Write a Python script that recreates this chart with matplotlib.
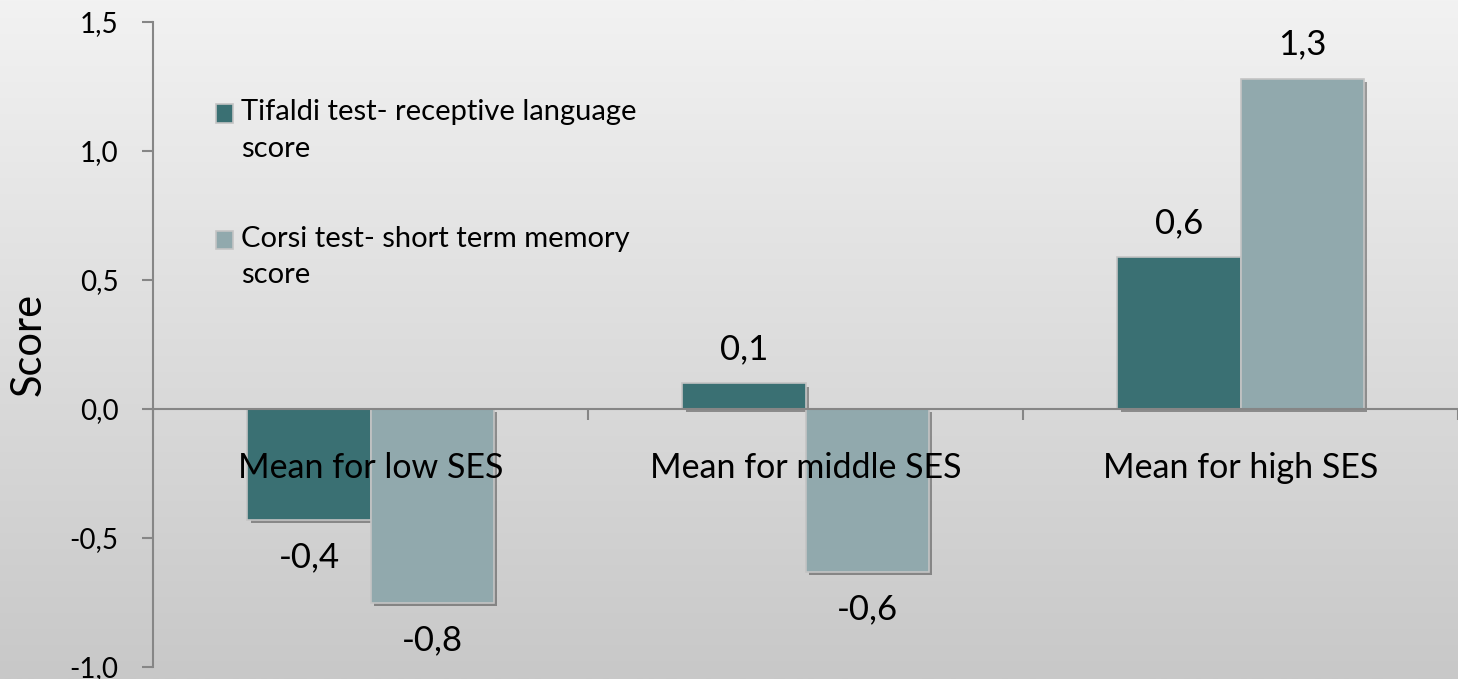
import numpy as np
from matplotlib import pyplot as plt
import matplotlib.patheffects as pe
from matplotlib.colors import LinearSegmentedColormap

plt.rcParams['font.family'] = ['Lato', 'DejaVu Sans']

categories = ['Mean for low SES', 'Mean for middle SES', 'Mean for high SES']
tifaldi = [-0.43, 0.10, 0.59]
corsi = [-0.75, -0.63, 1.28]
tifaldi_labels = ['-0,4', '0,1', '0,6']
corsi_labels = ['-0,8', '-0,6', '1,3']
series_names = ['Tifaldi test- receptive language\nscore',
                'Corsi test- short term memory\nscore']
yticks = [-1.0, -0.5, 0.0, 0.5, 1.0, 1.5]
ytick_labels = ['-1,0', '-0,5', '0,0', '0,5', '1,0', '1,5']

dark = '#3a7073'
light = '#91a9ad'
axis_grey = '#868686'

fig = plt.figure(figsize=(14.58, 6.79), dpi=100)

# background gradient
bg = fig.add_axes([0, 0, 1, 1], zorder=-10)
grad = np.linspace(0, 1, 256).reshape(-1, 1)
bg.imshow(grad, aspect='auto', extent=[0, 1, 0, 1], origin='upper',
          cmap=LinearSegmentedColormap.from_list('bg', ['#f2f2f2', '#c8c8c8']))
bg.axis('off')

ax = fig.add_axes([153 / 1458, 12 / 679, 1 - 153 / 1458, 645 / 679])
ax.patch.set_alpha(0)

x = np.arange(len(categories))
w = 0.283
shadow = [pe.SimplePatchShadow(offset=(2.5, -2.5), shadow_rgbFace='black', alpha=0.35), pe.Normal()]
b1 = ax.bar(x - w / 2, tifaldi, w, color=dark, edgecolor='#c4c4c4', linewidth=1.2,
            label=series_names[0], zorder=3)
b2 = ax.bar(x + w / 2, corsi, w, color=light, edgecolor='#c4c4c4', linewidth=1.2,
            label=series_names[1], zorder=3)
for bars in (b1, b2):
    for p in bars:
        p.set_path_effects(shadow)

# value labels at bar ends
for bars, labs in ((b1, tifaldi_labels), (b2, corsi_labels)):
    for p, lab in zip(bars, labs):
        h = p.get_height()
        xc = p.get_x() + p.get_width() / 2
        off = 24.5 if h >= 0 else -27
        ax.annotate(lab, (xc, h), xytext=(0, off), textcoords='offset points',
                    ha='center', va='center', fontsize=25, color='black', zorder=5)

# category labels sit just under the zero line, over the bars
for xi, cat in zip(x, categories):
    ax.annotate(cat, (xi, 0), xytext=(0, -42.5), textcoords='offset points',
                ha='center', va='center', fontsize=24.5, color='black', zorder=6)

ax.set_xlim(-0.5, (1458 - 153) / 439 - 0.5)
ax.set_ylim(-1.0, 1.5)
ax.set_yticks(yticks)
ax.set_yticklabels(ytick_labels, fontsize=20)

ax.spines['top'].set_visible(False)
ax.spines['right'].set_visible(False)
ax.spines['bottom'].set_position(('data', 0))
for s in ('left', 'bottom'):
    ax.spines[s].set_color(axis_grey)
    ax.spines[s].set_linewidth(1.5)
    ax.spines[s].set_zorder(4)

ax.set_xticks(np.arange(len(categories) + 1) - 0.5)
ax.set_xticklabels([])
ax.tick_params(axis='x', length=8, width=1.5, color=axis_grey, direction='out')
ax.tick_params(axis='y', length=8, width=1.5, color=axis_grey, pad=17)

ax.set_ylabel('Score', fontsize=30)
ax.yaxis.set_label_coords(-0.0805, 0.5)

leg = ax.legend(loc='upper left', bbox_to_anchor=(0.028, 0.921), frameon=False,
                fontsize=21, handlelength=0.6, handleheight=0.6, handletextpad=0.25,
                labelspacing=2.2)
for t in leg.get_texts():
    t.set_linespacing(1.5)
# lift the square markers level with the first text line
for h in leg.get_patches():
    h.set_path_effects([])
    h.set_y(h.get_y() + 12.5)

fig.savefig('out.png', dpi=100)
